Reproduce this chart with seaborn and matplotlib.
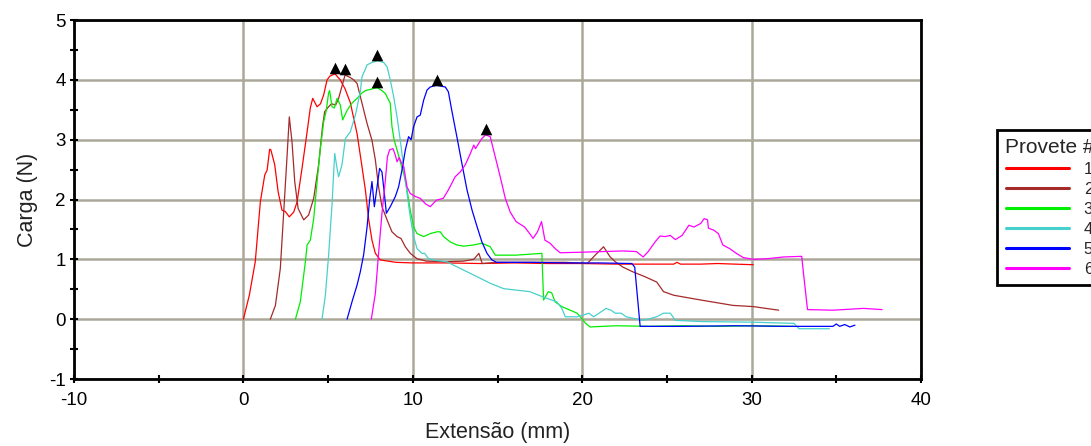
import numpy as np
import pandas as pd
import matplotlib
matplotlib.use("Agg")
import matplotlib.pyplot as plt
import matplotlib.transforms as mtransforms
import seaborn as sns

# ---------------- data ----------------
x1 = [0, 0.35, 0.7, 1.0, 1.26, 1.4, 1.55, 1.62, 1.85, 2.05, 2.28, 2.47, 2.71, 2.97, 3.17, 3.46, 3.76, 3.95, 4.09,
      4.35, 4.55, 4.74, 4.94, 5.1, 5.4, 5.72, 6.0, 6.31, 6.71, 7.0, 7.2, 7.4, 7.59, 7.79, 8.08, 9, 10, 12, 14, 16,
      18, 20, 22, 24, 25.4, 25.6, 25.8, 27, 28, 29, 30.1]
y1 = [0, 0.4, 0.96, 1.96, 2.41, 2.49, 2.84, 2.83, 2.58, 2.13, 1.82, 1.80, 1.71, 1.79, 1.96, 2.52, 3.13, 3.53, 3.69,
      3.55, 3.6, 3.75, 4.0, 4.06, 4.10, 4.0, 3.85, 3.62, 3.1, 2.55, 2.16, 1.66, 1.32, 1.10, 0.99, 0.95, 0.94, 0.94,
      0.93, 0.94, 0.93, 0.93, 0.92, 0.92, 0.92, 0.95, 0.92, 0.92, 0.93, 0.92, 0.91]

x2 = [1.59, 1.89, 2.18, 2.38, 2.58, 2.71, 2.87, 3.03, 3.23, 3.56, 3.85, 4.15, 4.44, 4.68, 4.8, 5.03, 5.2, 5.45,
      5.62, 6.0, 6.3, 6.51, 6.71, 7.0, 7.3, 7.59, 7.79, 7.98, 8.18, 8.48, 8.77, 9.07, 9.3, 9.56, 9.85, 10.25, 10.8,
      12, 13, 13.6, 13.9, 14.1, 15, 17, 19, 20.3, 20.8, 21.26, 21.65, 21.95, 22.4, 23.0, 23.7, 24.4, 24.8, 25.4,
      27.0, 28.9, 30.1, 31.6]
y2 = [0, 0.23, 0.85, 1.79, 2.74, 3.38, 2.96, 2.30, 1.85, 1.66, 1.74, 2.02, 2.58, 3.24, 3.47, 3.55, 3.6, 3.58,
      3.69, 4.08, 4.04, 4.0, 3.94, 3.61, 3.27, 2.99, 2.66, 2.21, 1.88, 1.66, 1.46, 1.38, 1.35, 1.21, 1.10, 1.01,
      0.97, 0.96, 0.97, 1.0, 1.10, 0.93, 0.95, 0.95, 0.95, 0.93, 1.08, 1.21, 1.04, 0.96, 0.87, 0.79, 0.71, 0.62,
      0.46, 0.40, 0.32, 0.23, 0.21, 0.15]

x3 = [3.07, 3.36, 3.66, 3.76, 3.95, 4.15, 4.35, 4.54, 4.74, 4.88, 5.03, 5.09, 5.23, 5.37, 5.53, 5.72, 5.86, 6.12,
      6.41, 6.71, 7.0, 7.2, 7.49, 7.9, 8.18, 8.38, 8.67, 8.77, 8.9, 9.07, 9.26, 9.46, 9.66, 9.85, 10.05, 10.25,
      10.64, 11.03, 11.43, 11.62, 11.82, 12.21, 12.6, 13.0, 13.59, 14.08, 14.57, 14.87, 16.1, 17.62, 17.72, 18.0,
      18.2, 18.4, 18.8, 19.29, 19.7, 19.98, 20.2, 20.47, 22, 24, 26, 28, 30, 32.5]
y3 = [0, 0.29, 0.96, 1.24, 1.32, 1.68, 2.30, 2.85, 3.30, 3.47, 3.78, 3.82, 3.55, 3.53, 3.69, 3.58, 3.33, 3.49,
      3.61, 3.69, 3.78, 3.82, 3.84, 3.87, 3.82, 3.77, 3.61, 3.22, 2.99, 2.83, 2.63, 2.44, 2.16, 1.82, 1.54, 1.43,
      1.38, 1.43, 1.46, 1.46, 1.38, 1.29, 1.24, 1.22, 1.24, 1.27, 1.21, 1.07, 1.07, 1.10, 0.32, 0.46, 0.44, 0.29,
      0.21, 0.15, 0.10, 0.01, -0.07, -0.13, -0.11, -0.12, -0.11, -0.12, -0.11, -0.12]

x4 = [4.64, 4.84, 5.03, 5.23, 5.39, 5.53, 5.62, 5.82, 6.02, 6.31, 6.61, 6.9, 7.0, 7.2, 7.3, 7.59, 7.9, 8.28, 8.48,
      8.67, 8.87, 9.07, 9.26, 9.46, 9.66, 9.85, 10.05, 10.25, 10.54, 10.7, 10.93, 11.4, 12.0, 13.0, 13.79, 14.57,
      15.36, 16.9, 17.7, 18.5, 18.8, 19.0, 19.7, 20.08, 20.4, 20.67, 21.26, 21.4, 21.7, 21.95, 22.3, 22.6, 23.6,
      24.4, 24.8, 25.2, 25.5, 27.0, 30, 32.5, 32.8, 34.6]
y4 = [0, 0.40, 1.07, 1.91, 2.77, 2.52, 2.38, 2.58, 3.02, 3.13, 3.41, 3.80, 4.05, 4.18, 4.25, 4.29, 4.32, 4.29,
      4.22, 4.0, 3.72, 3.38, 2.99, 2.55, 2.10, 1.71, 1.38, 1.18, 1.10, 1.10, 1.01, 0.98, 0.96, 0.82, 0.71, 0.60,
      0.51, 0.46, 0.37, 0.29, 0.18, 0.04, 0.04, 0.07, 0.10, 0.04, 0.15, 0.18, 0.15, 0.10, 0.10, 0.04, -0.02, 0.04,
      0.10, 0.10, -0.02, -0.04, -0.05, -0.07, -0.16, -0.16]

x5 = [6.12, 6.41, 6.71, 6.9, 7.1, 7.3, 7.45, 7.59, 7.73, 7.89, 8.04, 8.18, 8.32, 8.44, 8.67, 8.97, 9.16, 9.36,
      9.56, 9.75, 9.9, 10.05, 10.25, 10.44, 10.64, 10.84, 11.03, 11.4, 11.92, 12.1, 12.3, 12.6, 12.9, 13.2, 13.5,
      13.8, 14.08, 14.38, 14.67, 14.95, 17, 19, 21, 22.93, 23.1, 23.42, 26, 29, 32, 34.8, 35.0, 35.2, 35.5, 35.8,
      36.1]
y5 = [0, 0.29, 0.57, 0.79, 1.08, 1.54, 1.99, 2.30, 1.88, 2.21, 2.52, 2.46, 2.10, 1.77, 1.88, 2.05, 2.21, 2.49,
      2.83, 3.05, 3.0, 3.22, 3.38, 3.41, 3.66, 3.83, 3.88, 3.91, 3.88, 3.80, 3.49, 3.05, 2.60, 2.16, 1.82, 1.54,
      1.29, 1.10, 0.99, 0.95, 0.95, 0.94, 0.94, 0.93, 0.87, -0.12, -0.12, -0.11, -0.12, -0.12, -0.08, -0.12, -0.09,
      -0.13, -0.10]

x6 = [7.55, 7.79, 7.98, 8.18, 8.38, 8.5, 8.63, 8.83, 8.97, 9.07, 9.2, 9.3, 9.46, 9.66, 9.85, 10.15, 10.44, 10.74,
      11.03, 11.4, 11.8, 12.1, 12.5, 12.8, 13.1, 13.4, 13.6, 13.7, 13.94, 14.08, 14.3, 14.57, 14.87, 15.16, 15.46,
      15.75, 16.1, 16.6, 16.9, 17.1, 17.36, 17.6, 17.8, 18.1, 18.4, 18.7, 20.1, 22.4, 23.2, 23.6, 23.9, 24.3, 24.6,
      24.9, 25.2, 25.5, 25.9, 26.3, 26.6, 27.0, 27.2, 27.4, 27.45, 27.75, 28.04, 28.3, 28.7, 29.1, 29.5, 30.1,
      30.9, 31.9, 32.96, 33.0, 33.3, 34.8, 36.6, 37.7]
y6 = [0.0, 0.43, 1.10, 1.77, 2.32, 2.71, 2.83, 2.85, 2.74, 2.63, 2.7, 2.63, 2.55, 2.21, 2.10, 2.05, 2.02, 1.93,
      1.88, 1.99, 2.02, 2.16, 2.38, 2.46, 2.58, 2.77, 2.91, 2.85, 2.96, 3.02, 3.08, 3.05, 2.71, 2.38, 2.02, 1.79,
      1.63, 1.54, 1.43, 1.35, 1.46, 1.63, 1.32, 1.27, 1.18, 1.11, 1.12, 1.14, 1.13, 1.04, 1.13, 1.29, 1.39, 1.38,
      1.40, 1.33, 1.40, 1.57, 1.54, 1.60, 1.68, 1.66, 1.52, 1.49, 1.43, 1.24, 1.18, 1.10, 1.03, 1.0, 1.01, 1.04,
      1.05, 0.93, 0.16, 0.15, 0.18, 0.16]

series_labels = ["1", "2", "3", "4", "5", "6"]
series_x = [x1, x2, x3, x4, x5, x6]
series_y = [y1, y2, y3, y4, y5, y6]
colors = ["#ff0000", "#a52a2a", "#00ee00", "#48d1cc", "#0000ff", "#ff00ff"]

x_ticks = [-10, 0, 10, 20, 30, 40]
y_ticks = [-1, 0, 1, 2, 3, 4, 5]

# ---------------- build long-form table ----------------
frames = []
for lab, xs, ys in zip(series_labels, series_x, series_y):
    frames.append(pd.DataFrame({"x": xs, "y": ys, "Provete": lab}))
df = pd.concat(frames, ignore_index=True)
peaks = df.loc[df.groupby("Provete")["y"].idxmax()]

# ---------------- styling ----------------
sns.set_style("white")
plt.rcParams["font.family"] = ["Liberation Sans", "DejaVu Sans"]
plt.rcParams["axes.unicode_minus"] = False

fig = plt.figure(figsize=(10.91, 4.46), dpi=100)
ax = fig.add_axes([74 / 1091, 1 - 379 / 446, (921 - 74) / 1091, (379 - 20) / 446])

grid_color = "#aca899"
ax.set_axisbelow(True)
ax.grid(True, which="major", color=grid_color, linewidth=1.8)

palette = dict(zip(series_labels, colors))
sns.lineplot(data=df, x="x", y="y", hue="Provete", palette=palette, sort=False,
             estimator=None, linewidth=0.9, ax=ax, legend=True)

offset = mtransforms.ScaledTranslation(0, 4.0 / 72, fig.dpi_scale_trans)
ax.scatter(peaks["x"], peaks["y"], marker="^", s=70, color="black", zorder=5,
           transform=ax.transData + offset, linewidths=0)

ax.set_xlim(-10, 40)
ax.set_ylim(-1, 5)
ax.set_xticks(x_ticks)
ax.set_yticks(y_ticks)
ax.set_xticks([-5, 5, 15, 25, 35], minor=True)
ax.set_yticks([-0.5, 0.5, 1.5, 2.5, 3.5, 4.5], minor=True)
ax.tick_params(axis="both", which="both", direction="inout", length=6, width=1.5, color="black",
               bottom=True, left=True, top=False, right=False)
ax.tick_params(axis="both", which="major", labelsize=13.5, labelcolor="black")
ax.tick_params(axis="x", which="major", pad=6.5)
ax.tick_params(axis="y", which="major", pad=3)
for sp in ax.spines.values():
    sp.set_visible(True)
    sp.set_color("black")
    sp.set_linewidth(2.0)
    sp.set_zorder(6)

ax.set_xlabel("Extensão (mm)", fontsize=15.5, labelpad=9.5, color="#222222")
ax.set_ylabel("Carga (N)", fontsize=15.5, labelpad=8, color="#222222")

sns.move_legend(ax, loc="upper left", bbox_to_anchor=(996.5 / 1091, 1 - 129.5 / 446),
                bbox_transform=fig.transFigure, title="Provete #", fontsize=12, title_fontsize=15,
                frameon=True, fancybox=False, edgecolor="black", borderaxespad=0, borderpad=0.5,
                handlelength=3.8, handletextpad=0.85, labelspacing=0.3)
leg = ax.get_legend()
leg.get_frame().set_linewidth(2.0)
leg.get_frame().set_alpha(1)
for h in leg.get_lines():
    h.set_linewidth(2.2)

fig.savefig("out.png", dpi=100)
